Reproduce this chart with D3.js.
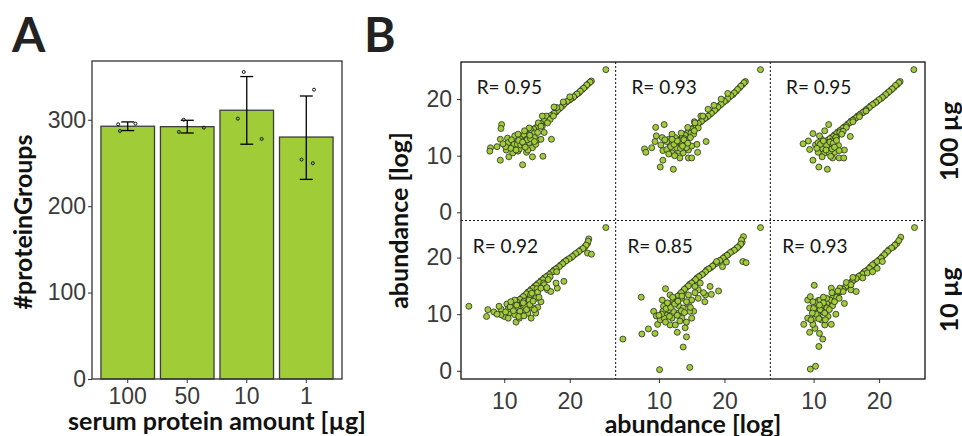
<!DOCTYPE html>
<html lang="en">
<head>
    <meta charset="UTF-8">
    <title>protein groups / abundance</title>
    <style>
        body { margin: 0; background: #fff; }
        svg { font-family: Lato, "Open Sans", sans-serif; display: block; }
        .tick text { fill: #3a3a3a; }
        .axTitle { font-weight: bold; fill: #111; }
        .panelTag { font-weight: bold; font-size: 48px; fill: #222; }
    </style>
    <script src="https://cdn.jsdelivr.net/npm/d3@7"></script>
</head>
<body>
<script>
    // ---- panel A data ----
    const amounts = ["100", "50", "10", "1"];
    const meanGroups = [292.5, 292, 311, 280];
    const errLow = [287.5, 284.7, 271.7, 231];
    const errHigh = [297.5, 299.4, 350, 327.5];
    const replicateGroups = [[294.8, 287, 295.5], [300, 285.9, 290.9], [355.3, 301.3, 277.8], [334.8, 253.9, 249.7]];
    const replicateJitter = [[-0.16, -0.13, 0.13], [-0.06, -0.14, 0.28], [-0.05, -0.15, 0.25], [0.13, -0.08, 0.11]];
    const groupTicks = [0, 100, 200, 300];

    // ---- panel B data (log abundance pairs) ----
    const rowLabels = ["100 µg", "10 µg"];
    const rValues = [["0.95", "0.93", "0.95"], ["0.92", "0.85", "0.93"]];
    const abundanceTicksX = [10, 20];
    const abundanceTicksY = [0, 10, 20];

    const s100a = [[25.5,25.2],[23.3,23.2],[22.9,22.8],[22.4,22.2],[21.9,21.7],[21.4,21.1],[20.9,20.7],[20.4,20.2],[19.9,19.8],
        [19.4,19.4],[18.9,18.8],[18.4,18.3],[17.9,17.7],[17.4,17.3],[16.9,16.9],[16.4,16.4],[15.9,15.9],[15.4,15.5],[14.8,14.9],
        [14.3,14.4],[13.8,13.9],[13.3,13.5],[12.8,13.0],[12.3,12.6],[11.8,12.2],
        [23.1,23.0],[22.6,22.5],[22.1,21.9],[21.6,21.4],[21.1,20.9],[20.6,20.4],[20.1,20.0],[19.6,19.6],[19.1,19.1],[18.6,18.5],
        [18.1,18.0],[17.6,17.5],[17.1,17.1],[16.6,16.7],[16.1,16.2],[15.6,15.7],[15.1,15.2],[14.5,14.7],[14.0,14.2],[13.5,13.7],
        [13.0,13.3],[12.5,12.8],[12.0,12.4],
        [14.0,14.6],[14.6,14.0],[15.2,15.8],[15.8,15.2],[16.4,17.0],[17.0,16.4],[13.0,13.6],[13.4,12.9],[12.4,13.0],[18.0,18.5],[19.0,19.5],[20.0,20.4],[17.5,17.0],
        [17.6,18.6],[15.8,17.0],[9.6,15.5],[9.5,14.8],[17.2,12.9],[9.4,12.9],[10.5,13.1],[7.9,11.4],[7.8,10.8],[8.9,11.6],[10.3,11.0],
        [10.7,9.8],[9.4,9.2],[12.8,8.4],[14.3,9.8],[15.9,9.9],[12.1,10.8],[13.4,10.6],[11.1,11.8],[12.6,12.3],[15.1,12.8],[14.3,11.4],
        [14.8,12.0],[11.6,13.5],[12.0,11.4],[13.1,11.7],[13.8,12.3],[10.6,12.3],[11.3,10.5],[15.6,15.2],[16.1,14.1],[16.6,15.8],[15.1,14.1],
        [14.6,13.2],[15.6,12.9],[13.6,11.0],[12.3,11.2],[13.8,14.9],[13.1,14.4],[12.1,13.8],[11.1,12.8],
        [11.5,12.0],[12.0,12.0],[12.5,11.9],[13.0,12.1],[13.5,12.8],[14.0,13.0],[12.2,12.7],[11.0,11.3],[13.2,11.5],[14.6,12.5],
        [12.8,12.4],[11.8,11.0],[10.2,11.6],[9.8,12.1],[13.9,13.6]];
    const s100b = [[25.5,25.2],[23.2,23.1],[22.8,22.6],[22.3,22.0],[21.8,21.4],[21.3,20.8],[20.8,20.4],[20.3,19.8],[19.8,19.4],
        [19.3,18.9],[18.8,18.3],[18.3,17.8],[17.8,17.3],[17.3,16.8],[16.8,16.4],[16.3,15.9],[15.8,15.5],[15.3,14.9],[14.7,14.4],
        [14.2,13.9],[13.7,13.4],[13.2,12.9],[12.7,12.4],
        [23.0,22.9],[22.5,22.3],[22.0,21.7],[21.5,21.1],[21.0,20.6],[20.5,20.1],[20.0,19.6],[19.5,19.1],[19.0,18.6],[18.5,18.0],
        [18.0,17.5],[17.5,17.0],[17.0,16.6],[16.5,16.1],[16.0,15.7],[15.5,15.2],[15.0,14.7],[14.5,14.1],[14.0,13.6],[13.5,13.1],
        [13.0,12.7],[12.5,12.2],
        [17.5,18.2],[18.4,18.9],[16.4,17.0],[15.4,16.0],[14.4,15.0],[13.4,14.0],[14.9,14.0],[13.9,13.0],[19.5,20.0],[20.5,21.0],
        [9.5,15.0],[10.8,15.5],[9.6,13.5],[10.5,13.2],[9.4,12.5],[8.9,11.4],[7.8,11.2],[8.0,10.6],[10.6,10.9],[10.6,9.2],[10.2,8.0],
        [12.2,7.6],[13.2,9.6],[14.5,9.6],[15.0,9.6],[15.9,10.6],[17.2,12.5],[15.8,12.0],[11.7,12.0],[11.2,11.1],[12.0,10.5],[13.0,10.8],
        [13.7,10.5],[14.5,11.0],[15.0,11.7],[13.5,12.0],[12.5,13.2],[14.2,12.6],[15.3,13.8],[16.0,14.9],[12.0,13.8],[11.5,12.9],
        [12.7,11.4],[14.2,11.4],[15.5,15.8],[16.7,17.0],
        [11.2,12.5],[11.8,11.6],[12.3,12.0],[12.8,12.6],[13.3,11.3],[13.8,12.8],[14.4,12.2],[12.4,10.0],[11.5,10.3],[10.9,12.8],
        [13.6,11.7],[14.8,13.2],[12.0,12.9],[10.3,11.9],[15.4,14.4]];
    const s100c = [[25.3,25.2],[23.2,23.1],[22.8,22.6],[22.3,22.1],[21.8,21.6],[21.3,21.1],[20.8,20.6],[20.3,20.1],[19.7,19.6],
        [19.2,19.2],[18.7,18.8],[18.2,18.3],[17.7,17.8],[17.2,17.4],[16.7,17.0],[16.2,16.5],[15.7,16.1],[15.2,15.6],[14.7,15.1],
        [14.2,14.6],[13.7,14.2],[13.2,13.7],[12.7,13.2],[12.2,12.8],
        [23.0,22.9],[22.5,22.4],[22.0,21.8],[21.5,21.3],[21.0,20.8],[20.5,20.3],[20.0,19.9],[19.5,19.4],[19.0,19.0],[18.5,18.5],
        [18.0,18.1],[17.5,17.6],[17.0,17.2],[16.5,16.7],[16.0,16.3],[15.5,15.8],[15.0,15.3],[14.5,14.9],[14.0,14.4],[13.5,13.9],
        [13.0,13.4],[12.5,13.0],
        [16.0,16.0],[15.0,15.0],[14.0,14.1],[17.0,16.9],[18.0,17.9],[13.5,13.3],[14.5,14.3],[12.8,12.6],
        [12.3,15.5],[11.7,14.4],[9.9,13.9],[9.2,12.6],[8.4,12.1],[10.3,11.9],[9.4,11.1],[10.7,10.6],[9.9,9.2],[10.8,8.0],[12.1,7.6],
        [12.9,9.6],[13.9,9.6],[14.6,9.6],[14.7,11.0],[13.2,10.6],[13.8,11.8],[15.6,13.4],[12.2,12.3],[11.4,11.2],[12.7,11.7],
        [11.2,12.9],[13.4,13.2],[11.7,10.5],[12.4,10.5],[10.7,12.3],
        [11.0,12.0],[11.5,12.6],[12.0,11.8],[12.5,12.4],[13.0,12.2],[13.5,12.7],[12.8,11.2],[11.9,11.0],[10.5,11.3],[13.9,10.9],
        [12.6,9.9],[10.9,13.5],[13.2,11.5],[14.3,13.8],[11.3,9.8]];
    const s10a = [[25.5,25.3],[22.9,23.3],[22.7,22.5],[22.3,21.9],[21.7,21.4],[21.2,20.9],[20.7,20.5],[20.2,20.0],[19.6,19.6],
        [19.1,19.2],[18.6,18.7],[18.1,18.2],[17.6,17.8],[17.1,17.3],[16.6,16.8],[16.1,16.4],[15.6,15.9],[15.1,15.4],[14.6,14.9],
        [14.1,14.4],[13.6,13.9],[13.1,13.3],[12.6,12.8],[12.1,12.4],
        [22.8,22.9],[22.5,22.2],[22.0,21.6],[21.4,21.1],[20.9,20.7],[20.4,20.2],[19.9,19.8],[19.4,19.4],[18.9,18.9],[18.4,18.4],
        [17.9,18.0],[17.4,17.5],[16.9,17.0],[16.4,16.6],[15.9,16.1],[15.4,15.6],[14.9,15.1],[14.4,14.6],[13.9,14.1],[13.4,13.6],
        [12.9,13.1],[12.4,12.6],[11.9,12.2],[11.4,11.9],
        [15.0,14.5],[16.0,15.5],[14.0,13.4],[13.0,12.3],[17.0,16.6],[18.0,17.5],[12.0,11.6],
        [4.6,11.4],[7.5,10.8],[7.3,9.6],[8.4,10.4],[9.5,10.9],[10.0,9.6],[10.4,11.8],[11.1,11.9],[11.6,12.5],[11.8,8.6],[12.6,9.9],
        [14.1,9.3],[14.8,10.2],[15.1,11.2],[15.6,12.2],[14.3,11.1],[13.6,10.2],[12.8,11.1],[13.3,11.9],[12.1,11.1],[10.8,10.2],
        [11.6,9.9],[12.3,9.3],[10.6,10.9],[9.5,9.9],[14.2,13.7],[15.1,13.9],[16.6,14.3],[17.1,14.0],[18.1,14.6],[19.1,15.8],
        [17.9,15.5],[16.7,16.1],[16.1,15.2],[15.6,14.6],[22.7,20.8],[23.3,20.6],[13.8,12.5],[14.8,12.8],[13.1,11.5],[16.5,14.7],
        [10.9,11.3],[11.4,10.6],[11.9,11.6],[12.4,10.5],[12.9,12.0],[13.4,10.8],[13.9,11.7],[14.4,12.3],[10.2,10.4],[9.2,11.4],
        [11.0,12.2],[12.2,9.6],[13.0,9.7],[14.6,10.8],[15.3,13.0],[10.6,9.3],[8.9,10.0]];
    const s10b = [[25.5,25.3],[22.9,23.7],[22.7,22.7],[22.3,22.1],[21.8,21.6],[21.2,21.1],[20.6,20.6],[20.1,20.2],[19.5,19.6],
        [19.0,19.3],[18.5,18.8],[17.9,18.2],[17.3,17.8],[16.8,17.2],[16.3,16.8],[15.8,16.4],[15.3,15.8],[14.7,15.3],[14.2,14.7],
        [13.7,14.1],[13.2,13.5],[12.7,12.9],
        [22.6,23.1],[22.5,22.4],[22.0,21.8],[21.5,21.3],[20.9,20.9],[20.4,20.4],[19.8,19.9],[19.3,19.5],[18.8,19.0],[18.2,18.5],
        [17.6,18.0],[17.1,17.5],[16.6,17.0],[16.1,16.6],[15.6,16.1],[15.0,15.5],[14.5,15.0],[13.9,14.4],[13.4,13.8],[12.9,13.2],
        [12.4,12.6],
        [22.8,19.3],[23.3,19.1],[4.5,5.6],[7.3,13.0],[7.4,6.5],[8.4,7.4],[9.4,6.6],[9.8,8.2],[10.1,0.2],[14.7,0.6],[13.7,4.2],
        [14.2,6.0],[12.8,6.8],[11.0,14.5],[9.2,10.5],[9.6,9.7],[10.5,12.5],[10.7,11.4],[10.2,9.0],[11.7,8.1],[12.5,8.1],[13.5,9.3],
        [14.0,7.6],[14.2,8.6],[15.0,9.3],[15.3,10.5],[12.0,9.3],[11.2,10.2],[11.5,11.6],[12.2,12.5],[13.0,11.5],[13.7,11.1],
        [14.5,11.8],[15.0,12.5],[16.0,12.8],[17.0,12.2],[17.1,13.4],[18.0,13.5],[17.8,14.9],[19.1,14.1],[16.8,13.8],[16.0,14.3],
        [16.3,15.5],[15.5,14.9],[18.8,19.3],[19.7,18.4],[20.3,19.2],[13.5,12.8],[13.0,10.2],[12.2,10.5],[14.7,10.5],[11.0,9.9],
        [11.7,13.4],[14.5,13.4],[13.5,13.2],[15.5,13.8],[12.6,12.0],[11.5,10.8],
        [10.6,10.5],[11.1,11.0],[11.8,11.2],[12.4,11.8],[12.9,12.3],[13.4,10.6],[10.8,9.3],[11.6,9.6],[12.8,9.8],[13.9,10.3],
        [14.2,12.2],[10.4,10.0],[11.3,12.0],[12.1,13.0],[14.8,11.2],[10.0,9.8],[13.2,8.8],[11.0,8.6]];
    const s10c = [[25.4,25.3],[23.3,23.6],[22.7,22.5],[22.2,21.9],[21.5,21.4],[21.0,20.8],[20.5,20.2],[20.0,19.6],[19.3,19.0],
        [18.7,18.4],[18.2,17.8],[17.7,17.4],[17.2,16.9],[16.7,16.5],[16.2,16.1],[15.7,15.6],[15.2,15.2],[14.7,14.6],[14.2,14.1],
        [13.7,13.7],[13.2,13.1],[12.7,12.7],[12.2,12.2],
        [23.0,23.0],[22.4,22.2],[21.9,21.7],[21.3,21.1],[20.8,20.5],[20.3,19.9],[19.7,19.3],[19.0,18.7],[18.5,18.1],[17.9,17.6],
        [17.5,17.1],[16.9,16.7],[16.5,16.3],[15.9,15.8],[15.5,15.4],[14.9,14.9],[14.5,14.4],[13.9,13.9],[13.5,13.4],[12.9,12.9],
        [12.5,12.5],[12.0,11.9],[11.6,11.5],
        [14.0,14.6],[15.0,15.6],[16.0,16.5],[13.5,13.0],[14.5,14.0],[12.0,12.8],
        [10.1,15.1],[9.1,12.5],[9.5,13.1],[10.7,12.4],[9.4,11.1],[10.2,10.5],[9.1,9.3],[8.5,8.2],[9.4,6.8],[10.2,7.5],[10.9,6.6],
        [11.4,5.6],[10.8,4.3],[9.5,0.3],[10.3,0.8],[13.4,10.0],[12.7,8.2],[11.7,8.1],[11.2,9.0],[10.7,9.9],[12.2,9.6],[12.0,11.1],
        [11.2,11.5],[12.9,11.5],[14.7,11.9],[12.7,14.6],[13.7,14.1],[13.9,12.8],[15.7,14.3],[16.5,14.0],[17.5,16.4],[18.2,17.3],
        [19.7,18.1],[20.5,19.3],[19.0,17.5],[10.2,9.3],[9.9,8.2],[10.6,11.2],[11.4,10.4],[15.7,15.2],
        [10.5,12.0],[11.0,12.5],[11.5,13.0],[10.0,11.0],[10.4,10.0],[11.0,10.8],[11.7,10.2],[10.8,9.2],[9.8,10.2],[9.6,9.0],
        [11.5,12.0],[12.4,10.8],[12.8,13.8],[13.2,12.2],[10.9,11.6],[9.9,12.2],[11.8,9.0]];
    const scatterPanels = [[s100a, s100b, s100c], [s10a, s10b, s10c]];

    const width = 962, height = 436;
    const green = "#a0cd37";

    const svg = d3.select("body").append("svg")
        .attr("width", width)
        .attr("height", height);

    // ================= Panel A =================
    const boxA = {left: 92, right: 342, top: 61, bottom: 379};

    const xA = d3.scaleBand()
        .domain(amounts)
        .range([boxA.left, boxA.right])
        .paddingInner(0.1)
        .paddingOuter(0.15);

    const yA = d3.scaleLinear()
        .domain([0, 368])
        .range([boxA.bottom, boxA.top]);

    const panelA = svg.append("g");

    panelA.selectAll("rect.bar")
        .data(amounts)
        .join("rect")
        .attr("class", "bar")
        .attr("x", d => xA(d))
        .attr("width", xA.bandwidth())
        .attr("y", (d, i) => yA(meanGroups[i]))
        .attr("height", (d, i) => yA(0) - yA(meanGroups[i]))
        .attr("fill", green)
        .attr("stroke", "#3d3d3d")
        .attr("stroke-width", 1.3);

    // error bars + replicate dots
    const capHalf = 6.5;
    amounts.forEach((a, i) => {
        const cx = xA(a) + xA.bandwidth() / 2;
        const eb = panelA.append("g").attr("stroke", "#000").attr("stroke-width", 1.3);
        eb.append("line").attr("x1", cx).attr("x2", cx).attr("y1", yA(errLow[i])).attr("y2", yA(errHigh[i]));
        eb.append("line").attr("x1", cx - capHalf).attr("x2", cx + capHalf).attr("y1", yA(errLow[i])).attr("y2", yA(errLow[i]));
        eb.append("line").attr("x1", cx - capHalf).attr("x2", cx + capHalf).attr("y1", yA(errHigh[i])).attr("y2", yA(errHigh[i]));

        panelA.selectAll(null)
            .data(replicateGroups[i])
            .join("circle")
            .attr("cx", (d, j) => cx + replicateJitter[i][j] * xA.step())
            .attr("cy", d => yA(d))
            .attr("r", 1.5)
            .attr("fill", "none")
            .attr("stroke", "#111")
            .attr("stroke-width", 1);
    });

    panelA.append("rect")
        .attr("x", boxA.left).attr("y", boxA.top)
        .attr("width", boxA.right - boxA.left).attr("height", boxA.bottom - boxA.top)
        .attr("fill", "none").attr("stroke", "#333").attr("stroke-width", 1.3);

    panelA.append("g")
        .attr("transform", `translate(${boxA.left},0)`)
        .call(d3.axisLeft(yA).tickValues(groupTicks).tickSize(4).tickPadding(2))
        .call(g => g.select(".domain").remove())
        .call(g => g.selectAll("line").attr("stroke", "#333"))
        .call(g => g.selectAll("text").attr("font-size", 23));

    panelA.append("g")
        .attr("transform", `translate(0,${boxA.bottom})`)
        .call(d3.axisBottom(xA).tickSize(4).tickPadding(5))
        .call(g => g.select(".domain").remove())
        .call(g => g.selectAll("line").attr("stroke", "#333"))
        .call(g => g.selectAll("text").attr("font-size", 23));

    panelA.append("text")
        .attr("class", "axTitle")
        .attr("transform", `translate(32,${(boxA.top + boxA.bottom) / 2 + 2}) rotate(-90)`)
        .attr("text-anchor", "middle")
        .attr("font-size", 25)
        .text("#proteinGroups");

    panelA.append("text")
        .attr("class", "axTitle")
        .attr("x", (boxA.left + boxA.right) / 2)
        .attr("y", 430)
        .attr("text-anchor", "middle")
        .attr("font-size", 25)
        .text("serum protein amount [µg]");

    svg.append("text").attr("class", "panelTag").attr("x", 12).attr("y", 52).text("A");
    svg.append("text").attr("class", "panelTag").attr("x", 364).attr("y", 52).text("B");

    // ================= Panel B =================
    const gridB = {left: 461, right: 925, top: 62, bottom: 379};
    const nCols = 3, nRows = 2;
    const colW = (gridB.right - gridB.left) / nCols;
    const rowH = (gridB.bottom - gridB.top) / nRows;

    const panelB = svg.append("g");

    scatterPanels.forEach((row, r) => {
        const y0 = gridB.top + r * rowH;
        const yB = d3.scaleLinear().domain([-1.45, 26.55]).range([y0 + rowH, y0]);

        row.forEach((pts, c) => {
            const x0 = gridB.left + c * colW;
            const xB = d3.scaleLinear().domain([3.4, 27]).range([x0, x0 + colW]);
            const cell = panelB.append("g");

            cell.selectAll("circle")
                .data(pts)
                .join("circle")
                .attr("cx", d => xB(d[0]))
                .attr("cy", d => yB(d[1]))
                .attr("r", 3)
                .attr("fill", green)
                .attr("stroke", "#2a2a2a")
                .attr("stroke-width", 0.8);

            cell.append("text")
                .attr("x", xB(r === 0 ? 5.8 : 5.2))
                .attr("y", yB(20.85))
                .attr("font-size", 19)
                .attr("fill", "#151515")
                .text("R= " + rValues[r][c]);

            if (r === nRows - 1) {
                cell.append("g")
                    .attr("transform", `translate(0,${gridB.bottom})`)
                    .call(d3.axisBottom(xB).tickValues(abundanceTicksX).tickSize(4).tickPadding(10))
                    .call(g => g.select(".domain").remove())
                    .call(g => g.selectAll("line").attr("stroke", "#333"))
                    .call(g => g.selectAll("text").attr("font-size", 23));
            }
            if (c === 0) {
                cell.append("g")
                    .attr("transform", `translate(${gridB.left},0)`)
                    .call(d3.axisLeft(yB).tickValues(abundanceTicksY).tickSize(4).tickPadding(5))
                    .call(g => g.select(".domain").remove())
                    .call(g => g.selectAll("line").attr("stroke", "#333"))
                    .call(g => g.selectAll("text").attr("font-size", 23));
            }
        });

        panelB.append("text")
            .attr("class", "axTitle")
            .attr("transform", `translate(958,${y0 + rowH / 2}) rotate(-90)`)
            .attr("text-anchor", "middle")
            .attr("font-size", 25)
            .text(rowLabels[r]);
    });

    // dotted panel dividers
    const dividers = panelB.append("g")
        .attr("stroke", "#111").attr("stroke-width", 1).attr("stroke-dasharray", "2,2");
    for (let c = 1; c < nCols; c++) {
        const x = gridB.left + c * colW;
        dividers.append("line").attr("x1", x).attr("x2", x).attr("y1", gridB.top).attr("y2", gridB.bottom);
    }
    for (let r = 1; r < nRows; r++) {
        const y = gridB.top + r * rowH;
        dividers.append("line").attr("x1", gridB.left).attr("x2", gridB.right).attr("y1", y).attr("y2", y);
    }

    panelB.append("rect")
        .attr("x", gridB.left).attr("y", gridB.top)
        .attr("width", gridB.right - gridB.left).attr("height", gridB.bottom - gridB.top)
        .attr("fill", "none").attr("stroke", "#111").attr("stroke-width", 1.3);

    panelB.append("text")
        .attr("class", "axTitle")
        .attr("transform", `translate(408,${(gridB.top + gridB.bottom) / 2}) rotate(-90)`)
        .attr("text-anchor", "middle")
        .attr("font-size", 25)
        .text("abundance [log]");

    panelB.append("text")
        .attr("class", "axTitle")
        .attr("x", (gridB.left + gridB.right) / 2)
        .attr("y", 433)
        .attr("text-anchor", "middle")
        .attr("font-size", 25)
        .text("abundance [log]");
</script>
</body>
</html>
